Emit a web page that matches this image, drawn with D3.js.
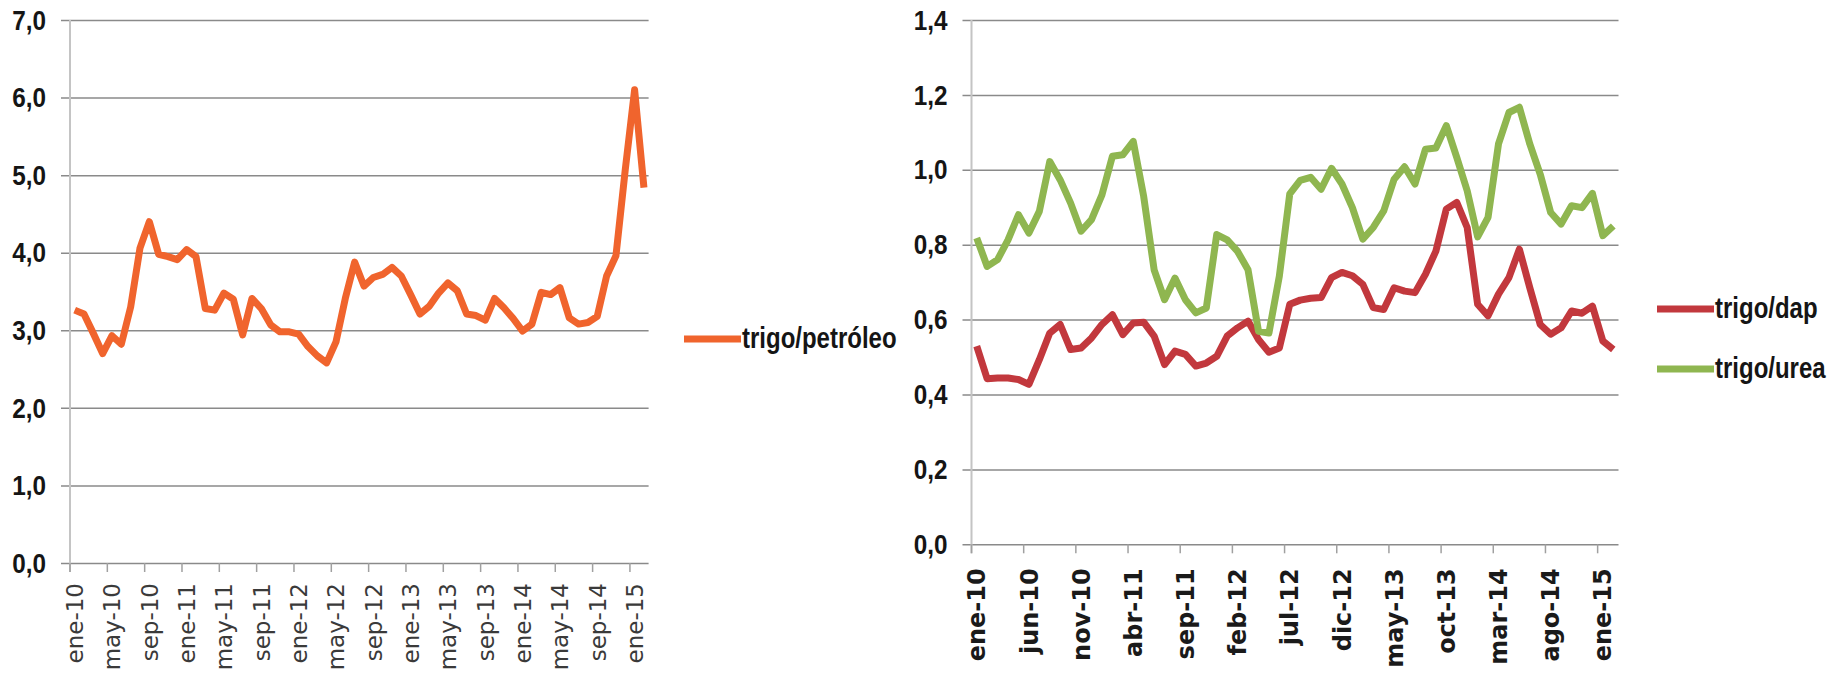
<!DOCTYPE html>
<html>
<head>
<meta charset="utf-8">
<script src="https://cdn.jsdelivr.net/npm/d3@7"></script>
<style>
  html, body { margin: 0; padding: 0; background: #fff; }
  svg { display: block; }
</style>
</head>
<body>
<div id="chart"></div>
<script>
// month names (spanish) and years for the category axis
var monthNames = ['ene', 'feb', 'mar', 'abr', 'may', 'jun', 'jul', 'ago', 'sep', 'oct', 'nov', 'dic'];
var years = ['10', '11', '12', '13', '14', '15'];

// ticks shown on each chart
var leftTickLabels = ['ene-10', 'may-10', 'sep-10', 'ene-11', 'may-11', 'sep-11', 'ene-12', 'may-12',
    'sep-12', 'ene-13', 'may-13', 'sep-13', 'ene-14', 'may-14', 'sep-14', 'ene-15'];
var rightTickLabels = ['ene-10', 'jun-10', 'nov-10', 'abr-11', 'sep-11', 'feb-12', 'jul-12',
    'dic-12', 'may-13', 'oct-13', 'mar-14', 'ago-14', 'ene-15'];

var leftYTicks = [0, 1, 2, 3, 4, 5, 6, 7];
var rightYTicks = [0, 0.2, 0.4, 0.6, 0.8, 1.0, 1.2, 1.4];

// trigo/petróleo, ene-10 .. feb-15
var petroleo = [3.26, 3.21, 2.96, 2.70, 2.93, 2.82, 3.30, 4.06, 4.40, 3.98, 3.95, 3.91, 4.04, 3.95, 3.28, 3.26,
    3.48, 3.40, 2.94, 3.41, 3.28, 3.07, 2.98, 2.98, 2.95, 2.79, 2.67, 2.58, 2.85, 3.41, 3.88, 3.57,
    3.68, 3.72, 3.81, 3.70, 3.46, 3.21, 3.31, 3.48, 3.61, 3.51, 3.21, 3.19, 3.13, 3.41, 3.29, 3.15,
    2.99, 3.08, 3.49, 3.46, 3.55, 3.16, 3.08, 3.10, 3.18, 3.70, 3.96, 5.07, 6.10, 4.84];

// trigo/dap
var dap = [0.529, 0.442, 0.444, 0.444, 0.440, 0.427, 0.493, 0.564, 0.587, 0.520, 0.524, 0.551, 0.587, 0.613, 0.560, 0.591,
    0.593, 0.556, 0.480, 0.516, 0.507, 0.476, 0.484, 0.502, 0.556, 0.578, 0.596, 0.547, 0.513, 0.524, 0.641, 0.652,
    0.657, 0.659, 0.712, 0.726, 0.717, 0.694, 0.632, 0.627, 0.685, 0.676, 0.672, 0.721, 0.783, 0.895, 0.913, 0.846,
    0.641, 0.610, 0.668, 0.712, 0.788, 0.685, 0.587, 0.561, 0.578, 0.623, 0.617, 0.636, 0.543, 0.520];

// trigo/urea
var urea = [0.818, 0.742, 0.760, 0.813, 0.880, 0.831, 0.889, 1.022, 0.973, 0.911, 0.836, 0.867, 0.933, 1.036, 1.040, 1.076,
    0.929, 0.733, 0.653, 0.711, 0.653, 0.618, 0.631, 0.827, 0.813, 0.782, 0.733, 0.569, 0.564, 0.716, 0.936, 0.972,
    0.980, 0.948, 1.004, 0.962, 0.899, 0.815, 0.846, 0.890, 0.975, 1.008, 0.962, 1.055, 1.058, 1.118, 1.033, 0.944,
    0.821, 0.873, 1.069, 1.153, 1.167, 1.069, 0.988, 0.886, 0.855, 0.904, 0.899, 0.937, 0.824, 0.850];

var months = [];
years.forEach(function (y) {
    monthNames.forEach(function (m) { months.push(m + '-' + y); });
});
months = months.slice(0, petroleo.length);

var width = 1835, height = 675;

var locale = d3.formatLocale({ decimal: ',', thousands: '.', grouping: [3], currency: ['', '€'] });
var fmt = locale.format('.1f');

// no narrow font installed: squeeze Liberation Sans horizontally
var narrow = '"Liberation Sans", Arial, sans-serif';
var squeeze = 0.8;
var ySqueeze = 0.9;

var svg = d3.select('#chart').append('svg')
    .attr('width', width)
    .attr('height', height);

var drawChart = function (opt) {
    var g = svg.append('g');

    var x = d3.scaleBand().domain(months).range([opt.x0, opt.x1]).padding(0);
    var y = d3.scaleLinear().domain(opt.domain).range([opt.yBot, opt.yTop]);
    var bw = x.bandwidth();

    // gridlines + y labels
    var yAxis = g.append('g')
        .attr('transform', 'translate(' + opt.x0 + ',0)')
        .call(d3.axisLeft(y).tickValues(opt.yTicks).tickFormat(fmt)
            .tickSize(-(opt.x1 - opt.x0)).tickSizeOuter(0).tickPadding(25));
    yAxis.select('.domain').remove();
    yAxis.selectAll('.tick line')
        .attr('x1', -9)
        .attr('stroke', '#8a8a8a')
        .attr('stroke-width', 1.5);
    yAxis.selectAll('.tick text')
        .attr('x', -24 / ySqueeze)
        .attr('dy', '0.34em')
        .attr('transform', 'scale(' + ySqueeze + ',1)')
        .attr('font-family', narrow)
        .attr('font-weight', 'bold')
        .attr('font-size', 27)
        .attr('fill', '#151515');

    // vertical axis line
    g.append('line')
        .attr('x1', opt.x0).attr('x2', opt.x0)
        .attr('y1', opt.yTop).attr('y2', opt.yBot + 9)
        .attr('stroke', '#c4c4c4')
        .attr('stroke-width', 2);

    // category ticks and labels
    g.selectAll('.xtick')
        .data(opt.xLabels)
        .enter().append('line')
        .attr('class', 'xtick')
        .attr('x1', d => x(d)).attr('x2', d => x(d))
        .attr('y1', opt.yBot).attr('y2', opt.yBot + 9)
        .attr('stroke', '#a0a0a0')
        .attr('stroke-width', 1.5);

    g.selectAll('.xlabel')
        .data(opt.xLabels)
        .enter().append('text')
        .attr('class', 'xlabel')
        .attr('transform', d => 'translate(' + (x(d) + bw / 2) + ',' + (opt.yBot + opt.labelGap) + ') rotate(-90)')
        .attr('dy', '0.36em')
        .attr('text-anchor', 'end')
        .attr('font-family', '"DejaVu Sans", Verdana, sans-serif')
        .attr('font-weight', opt.labelWeight)
        .attr('font-size', opt.labelSize)
        .attr('fill', opt.labelColor)
        .text(d => d);

    var line = d3.line()
        .x((d, i) => x(months[i]) + bw / 2)
        .y(d => y(d));

    opt.series.forEach(function (s) {
        g.append('path')
            .datum(s.values)
            .attr('fill', 'none')
            .attr('stroke', s.color)
            .attr('stroke-width', 7)
            .attr('stroke-linejoin', 'round')
            .attr('d', line);
    });

    // legend
    var leg = g.selectAll('.legend')
        .data(opt.series)
        .enter().append('g')
        .attr('class', 'legend')
        .attr('transform', (d, i) => 'translate(' + opt.legX + ',' + (opt.legY + i * 60) + ')');
    leg.append('line')
        .attr('x1', 0).attr('x2', 57)
        .attr('stroke', d => d.color)
        .attr('stroke-width', 7);
    leg.append('text')
        .attr('transform', 'translate(58,9) scale(' + squeeze + ',1)')
        .attr('font-family', narrow)
        .attr('font-weight', 'bold')
        .attr('font-size', 30)
        .attr('fill', '#151515')
        .text(d => d.name);
};

drawChart({
    x0: 70, x1: 648.6, yTop: 20, yBot: 563,
    domain: [0, 7], yTicks: leftYTicks,
    xLabels: leftTickLabels, labelGap: 20, labelSize: 23, labelWeight: 'normal', labelColor: '#3a3a3a',
    series: [{ name: 'trigo/petróleo', values: petroleo, color: '#f0642d' }],
    legX: 684, legY: 339
});

drawChart({
    x0: 971.5, x1: 1618.5, yTop: 20, yBot: 544.3,
    domain: [0, 1.4], yTicks: rightYTicks,
    xLabels: rightTickLabels, labelGap: 24, labelSize: 24, labelWeight: 'bold', labelColor: '#1a1a1a',
    series: [
        { name: 'trigo/dap', values: dap, color: '#c2383d' },
        { name: 'trigo/urea', values: urea, color: '#8fb650' }
    ],
    legX: 1657, legY: 309
});
</script>
</body>
</html>
